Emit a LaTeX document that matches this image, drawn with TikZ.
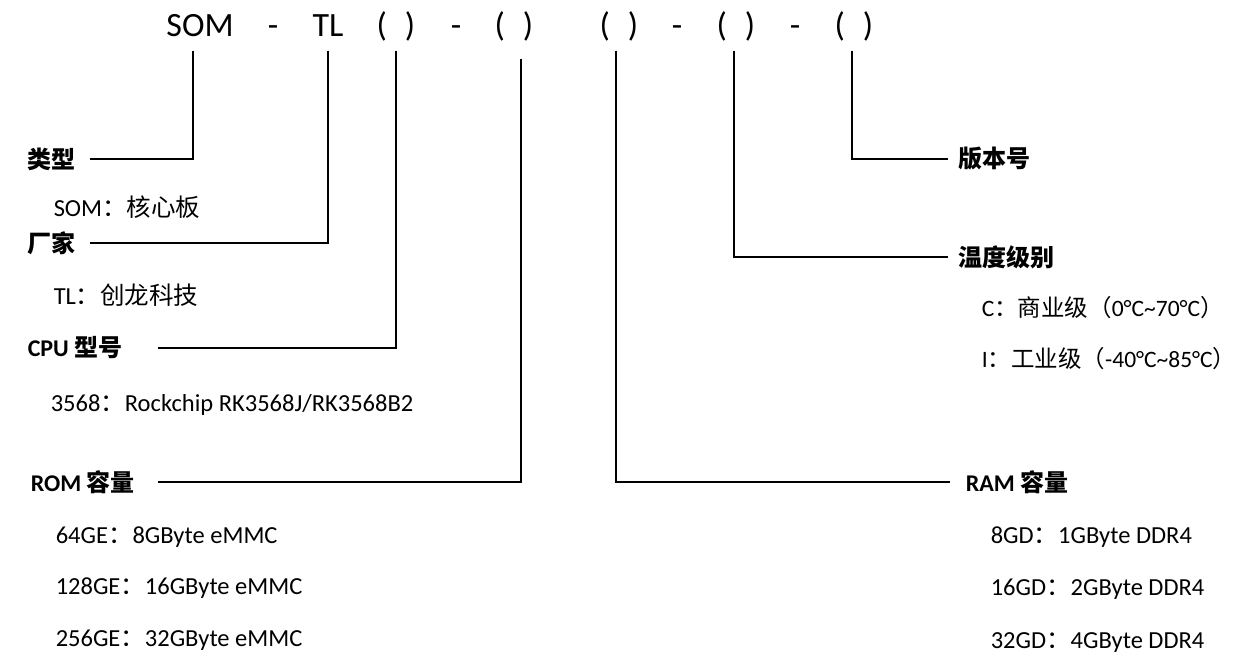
\documentclass[tikz,border=0pt]{standalone}
\usepackage{fontspec}
\setmainfont{Carlito}
\newfontfamily\cjk{Noto Sans CJK SC}
\newcommand{\zh}[1]{{\cjk #1}}
\usetikzlibrary{positioning}

\begin{document}
\begin{tikzpicture}[x=1bp,y=-1bp,line width=1.5bp]
    \tikzstyle{code}=[inner sep=0,anchor=base,text height=25bp,text depth=13bp,font=\fontsize{34bp}{40bp}\selectfont]
    \tikzstyle{head}=[inner sep=0,anchor=west,font=\fontsize{24bp}{28bp}\selectfont\bfseries]
    \tikzstyle{item}=[inner sep=0,anchor=west,text height=20bp,text depth=2bp,font=\fontsize{24.5bp}{28bp}\selectfont]
    \tikzstyle{grade}=[item,font=\fontsize{23.5bp}{28bp}\selectfont]
    \useasboundingbox (0,0) rectangle (1239,653);
    \node[code] (som) at (200,37) {SOM} ;
    \node[code] (d1) at (273,37) {-} ;
    \node[code] (tl) at (328,37) {TL} ;
    \node[code] (p1) at (396,37) {(\hspace{18bp})} ;
    \node[code] (d2) at (456,37) {-} ;
    \node[code] (p2) at (514,37) {(\hspace{18bp})} ;
    \node[code] (p3) at (619,37) {(\hspace{18bp})} ;
    \node[code] (d3) at (677,37) {-} ;
    \node[code] (p4) at (736,37) {(\hspace{18bp})} ;
    \node[code] (d4) at (795,37) {-} ;
    \node[code] (p5) at (854,37) {(\hspace{18bp})} ;
    \node[head] (type) at (27,159) {\zh{类型}} ;
    \node[item] (somdesc) at (53,208) {SOM\zh{：核心板}} ;
    \node[head] (maker) at (27,243) {\zh{厂家}} ;
    \node[item] (tldesc) at (53,295) {TL\zh{：创龙科技}} ;
    \node[head] (cpu) at (27,348) {CPU \zh{型号}} ;
    \node[item] (cpudesc) at (50,402) {3568\zh{：}Rockchip RK3568J/RK3568B2} ;
    \node[head] (rom) at (30,482) {ROM \zh{容量}} ;
    \node[item] (rom1) at (55,534) {64GE\zh{：}8GByte eMMC} ;
    \node[item] (rom2) [below=28bp of rom1.south west,anchor=north west] {128GE\zh{：}16GByte eMMC} ;
    \node[item] (rom3) [below=28bp of rom2.south west,anchor=north west] {256GE\zh{：}32GByte eMMC} ;
    \node[head] (ver) at (958,159) {\zh{版本号}} ;
    \node[head] (temp) at (958,257) {\zh{温度级别}} ;
    \node[grade] (tc) at (981,307) {C\zh{：商业级（}0°C\textasciitilde70°C\zh{）}} ;
    \node[grade] (ti) [below=28bp of tc.south west,anchor=north west] {I\zh{：工业级（}-40°C\textasciitilde85°C\zh{）}} ;
    \node[head] (ram) at (965,482) {RAM \zh{容量}} ;
    \node[item] (ram1) at (990,534) {8GD\zh{：}1GByte DDR4} ;
    \node[item] (ram2) [below=29bp of ram1.south west,anchor=north west] {16GD\zh{：}2GByte DDR4} ;
    \node[item] (ram3) [below=29bp of ram2.south west,anchor=north west] {32GD\zh{：}4GByte DDR4} ;
    \draw ([xshift=-7bp]som.south) |- ([xshift=13bp]type.east) ;
    \draw (tl.south) |- ([xshift=13bp]maker.east) ;
    \draw (p1.south) |- ([xshift=35bp]cpu.east) ;
    \draw ([xshift=7bp,yshift=-8bp]p2.south) |- ([xshift=23bp]rom.east) ;
    \draw ([xshift=-3bp]p3.south) |- ([xshift=-15bp]ram.west) ;
    \draw ([xshift=-2bp]p4.south) |- ([xshift=-10bp]temp.west) ;
    \draw ([xshift=-2bp]p5.south) |- ([xshift=-10bp]ver.west) ;
\end{tikzpicture}
\end{document}
